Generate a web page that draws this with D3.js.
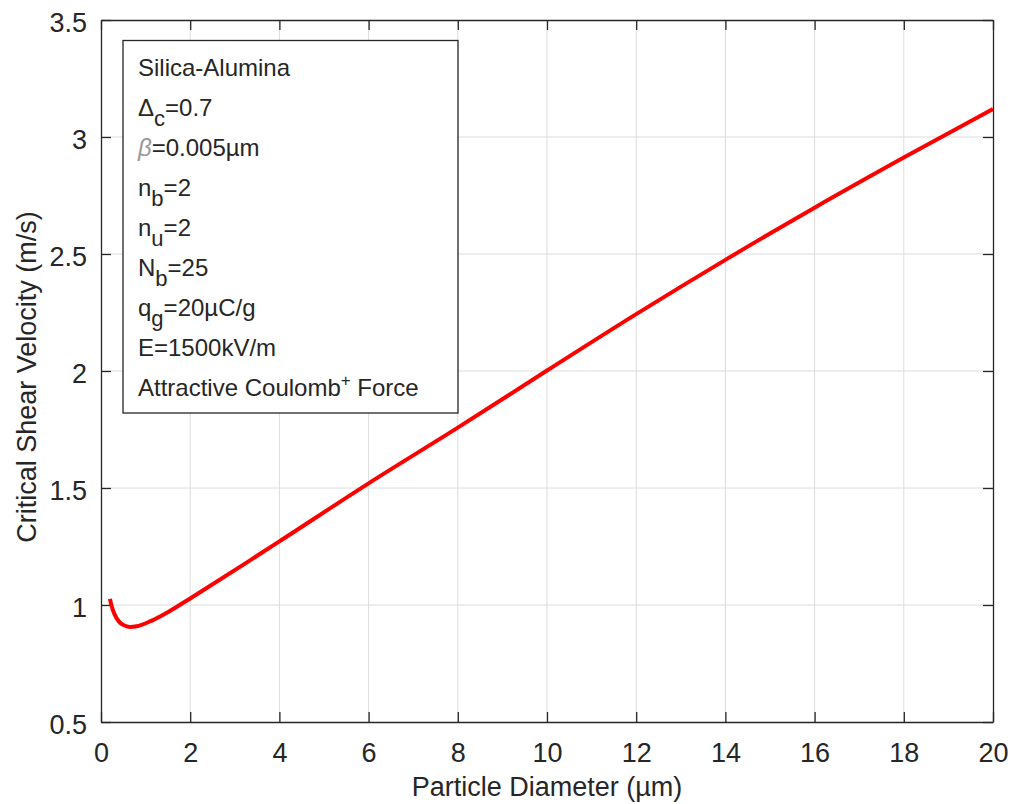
<!DOCTYPE html>
<html>
<head>
<meta charset="utf-8">
<script src="https://cdn.jsdelivr.net/npm/d3@7"></script>
<style>
  body { margin: 0; background: #fff; }
  svg text { font-family: "Liberation Sans", Arial, sans-serif; fill: #262626; }
</style>
</head>
<body>
<div id="chart"></div>
<script>
// Particle diameter (µm) and critical shear velocity (m/s)
const diameters = [0.2, 0.25, 0.3, 0.4, 0.5, 0.65, 0.8, 1.1, 1.55, 2, 2.45, 3.35, 4, 6, 8, 10, 12, 14, 16, 18, 20];
const velocities = [1.026, 0.988, 0.962, 0.930, 0.915, 0.906, 0.909, 0.930, 0.975, 1.028, 1.082, 1.192, 1.272, 1.520, 1.758, 2.002, 2.243, 2.475, 2.698, 2.912, 3.120];

const xTicks = [0, 2, 4, 6, 8, 10, 12, 14, 16, 18, 20];
const yTicks = [0.5, 1, 1.5, 2, 2.5, 3, 3.5];

const legendLines = [
    { main: "Silica-Alumina" },
    { main: "\u0394", sub: "c", rest: "=0.7" },
    { beta: "\u03B2", rest: "=0.005\u00B5m" },
    { main: "n", sub: "b", rest: "=2" },
    { main: "n", sub: "u", rest: "=2" },
    { main: "N", sub: "b", rest: "=25" },
    { main: "q", sub: "g", rest: "=20\u00B5C/g" },
    { main: "E=1500kV/m" },
    { main: "Attractive Coulomb", sup: "+", rest: " Force" }
];

const WIDTH = 1012, HEIGHT = 804;
const MARGIN = { LEFT: 101, RIGHT: 19, TOP: 20, BOTTOM: 82 };
const W = WIDTH - MARGIN.LEFT - MARGIN.RIGHT;
const H = HEIGHT - MARGIN.TOP - MARGIN.BOTTOM;

const svg = d3.select("#chart").append("svg")
    .attr("width", WIDTH)
    .attr("height", HEIGHT);

const g = svg.append("g")
    .attr("transform", `translate(${MARGIN.LEFT}, ${MARGIN.TOP})`);

const x = d3.scaleLinear().domain([0, 20]).range([0, W]);
const y = d3.scaleLinear().domain([0.5, 3.5]).range([H, 0]);

// grid
g.append("g").selectAll("line")
    .data(xTicks.slice(1, -1))
    .join("line")
    .attr("x1", d => x(d)).attr("x2", d => x(d))
    .attr("y1", 0).attr("y2", H)
    .attr("stroke", "#dcdcdc").attr("stroke-width", 1);
g.append("g").selectAll("line")
    .data(yTicks.slice(1, -1))
    .join("line")
    .attr("x1", 0).attr("x2", W)
    .attr("y1", d => y(d)).attr("y2", d => y(d))
    .attr("stroke", "#dcdcdc").attr("stroke-width", 1);

// axes (ticks pointing inward, mirrored on top/right)
const fmt = d => String(d);
const xAxis = g.append("g")
    .attr("transform", `translate(0, ${H})`)
    .call(d3.axisBottom(x).tickValues(xTicks).tickFormat(fmt).tickSizeInner(-10).tickSizeOuter(0).tickPadding(21));
const yAxis = g.append("g")
    .call(d3.axisLeft(y).tickValues(yTicks).tickFormat(fmt).tickSizeInner(-10).tickSizeOuter(0).tickPadding(14));
g.append("g")
    .call(d3.axisTop(x).tickValues(xTicks).tickFormat("").tickSizeInner(-10).tickSizeOuter(0));
g.append("g")
    .attr("transform", `translate(${W}, 0)`)
    .call(d3.axisRight(y).tickValues(yTicks).tickFormat("").tickSizeInner(-10).tickSizeOuter(0));

g.selectAll(".domain").attr("stroke", "#262626").attr("stroke-width", 1.3);
g.selectAll(".tick line").attr("stroke", "#262626").attr("stroke-width", 1.3);
g.selectAll(".tick text").style("font-size", "27px").attr("fill", "#262626");
yAxis.selectAll(".tick text").attr("dy", "0.42em");

// curve
const line = d3.line()
    .x((d, i) => x(diameters[i]))
    .y(d => y(d))
    .curve(d3.curveMonotoneX);

g.append("path")
    .datum(velocities)
    .attr("d", line)
    .attr("fill", "none")
    .attr("stroke", "#ff0000")
    .attr("stroke-width", 4);

// axis labels
g.append("text")
    .attr("x", W / 2)
    .attr("y", H + 74)
    .attr("text-anchor", "middle")
    .style("font-size", "27px")
    .text("Particle Diameter (\u00B5m)");

g.append("text")
    .attr("transform", "rotate(-90)")
    .attr("x", -H / 2 - 6)
    .attr("y", -65)
    .attr("text-anchor", "middle")
    .style("font-size", "27px")
    .text("Critical Shear Velocity (m/s)");

// annotation box
const box = svg.append("g").attr("transform", "translate(123, 40.5)");
box.append("rect")
    .attr("width", 335).attr("height", 372.5)
    .attr("fill", "#fff")
    .attr("stroke", "#262626").attr("stroke-width", 1.3);

legendLines.forEach((l, i) => {
    const t = box.append("text")
        .attr("x", 15)
        .attr("y", 35 + i * 40)
        .style("font-size", "24px");
    if (l.beta) {
        t.append("tspan").attr("font-style", "italic").attr("fill", "#999").text(l.beta);
    }
    if (l.main) t.append("tspan").text(l.main);
    if (l.sub) t.append("tspan").attr("dy", 10).style("font-size", "22px").text(l.sub);
    if (l.sup) t.append("tspan").attr("dy", -10).style("font-size", "17px").text(l.sup);
    if (l.rest) t.append("tspan").attr("dy", l.sub ? -10 : (l.sup ? 10 : 0)).text(l.rest);
});
</script>
</body>
</html>
